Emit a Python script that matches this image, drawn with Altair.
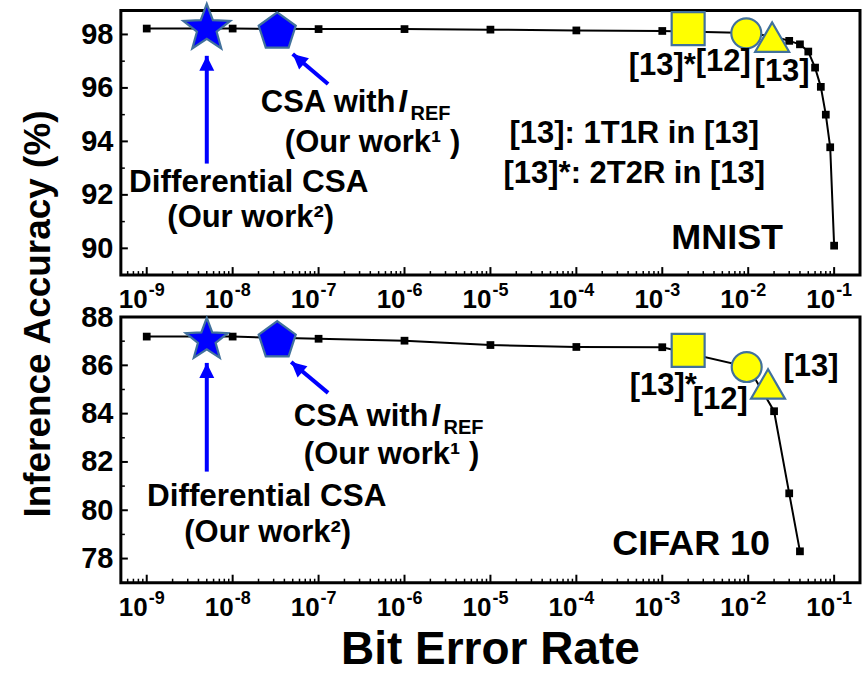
import math
import altair as alt
import pandas as pd

FONT = "Liberation Sans"

# ---------------- data ----------------
# MNIST: inference accuracy (%) versus bit error rate
mnist_ber = [1e-9, 1e-8, 1e-7, 1e-6, 1e-5, 1e-4, 1e-3, 1e-2, 2e-2,
             3e-2, 4e-2, 5e-2, 6e-2, 7e-2, 8e-2, 9e-2, 1e-1]
mnist_acc = [98.22, 98.22, 98.20, 98.20, 98.18, 98.15, 98.13, 98.05, 97.92,
             97.76, 97.63, 97.36, 96.76, 96.04, 95.00, 93.78, 90.10]

# CIFAR 10: inference accuracy (%) versus bit error rate
cifar_ber = [1e-9, 1e-8, 1e-7, 1e-6, 1e-5, 1e-4, 1e-3, 1e-2, 2e-2, 3e-2, 4e-2]
cifar_acc = [87.19, 87.19, 87.10, 87.02, 86.84, 86.76, 86.75, 85.93, 84.10, 80.70, 78.30]

# highlighted designs: ours (star, pentagon) and references (square, circle, triangle)
design_keys = ["diff_csa", "csa_iref", "ref13_2t2r", "ref12", "ref13_1t1r"]
mnist_design_ber = [5e-9, 3.3e-8, 2e-3, 9.5e-3, 1.9e-2]
mnist_design_acc = [98.22, 98.10, 98.22, 98.04, 97.90]
cifar_design_ber = [5e-9, 3.3e-8, 2e-3, 9.6e-3, 1.7e-2]
cifar_design_acc = [87.05, 87.02, 86.62, 85.93, 85.23]

# arrows pointing at our designs: tail -> tip (BER, accuracy)
mnist_arrow_tail_ber = [5e-9, 1.29e-7]
mnist_arrow_tail_acc = [93.17, 96.15]
mnist_arrow_tip_ber = [5e-9, 5.0e-8]
mnist_arrow_tip_acc = [97.20, 97.27]
cifar_arrow_tail_ber = [5e-9, 1.29e-7]
cifar_arrow_tail_acc = [81.60, 84.86]
cifar_arrow_tip_ber = [5e-9, 4.8e-8]
cifar_arrow_tip_acc = [86.10, 86.14]

# axis ticks
decade_exponents = [-9, -8, -7, -6, -5, -4, -3, -2, -1]
mnist_y_major = [90, 92, 94, 96, 98]
mnist_y_minor = [91, 93, 95, 97]
cifar_y_major = [78, 80, 82, 84, 86, 88]
cifar_y_minor = [79, 81, 83, 85, 87]

# ---------------- styling ----------------
W = 740
H_TOP, H_BOT = 265, 266
X_DOMAIN = [5e-10, 0.2]
BLUE = "#0000FF"
EDGE = "#41719C"


def star_path(inner=0.42):
    pts = []
    for k in range(10):
        r = 1.0 if k % 2 == 0 else inner
        a = math.radians(-90 + 36 * k)
        pts.append((r * math.cos(a), r * math.sin(a)))
    return "M" + "L".join(f"{x:.4f},{y:.4f}" for x, y in pts) + "Z"


def pentagon_path():
    pts = []
    for k in range(5):
        a = math.radians(-90 + 72 * k)
        pts.append((math.cos(a), math.sin(a)))
    return "M" + "L".join(f"{x:.4f},{y:.4f}" for x, y in pts) + "Z"


ARROW_HEAD = "M0,0L-0.5,1L0.5,1Z"
shapes = [star_path(), pentagon_path(), "square", "circle", "triangle-up"]
fills = [BLUE, BLUE, "#FFFF00", "#FFFF00", "#FFFF00"]


def xenc(field):
    return alt.X(field, type="quantitative",
                 scale=alt.Scale(type="log", domain=X_DOMAIN, nice=False),
                 axis=None)


def make_yenc(ydom, ymajor):
    def yenc(field):
        return alt.Y(field, type="quantitative",
                     scale=alt.Scale(domain=ydom, nice=False, zero=False),
                     axis=alt.Axis(values=ymajor, format="d", ticks=False, domain=False,
                                   grid=False, labelFont=FONT, labelFontSize=29,
                                   labelFontWeight="bold", labelColor="black",
                                   labelPadding=8, labelOverlap=False, title=None))
    return yenc


def note(text, x, y, size=31, align="center", style="normal", angle=0):
    kw = dict(font=FONT, fontSize=size, fontWeight="bold", fontStyle=style,
              align=align, baseline="middle", color="black")
    if angle:
        kw["angle"] = angle
    return alt.Chart(pd.DataFrame({"t": [text]})).mark_text(**kw).encode(
        x=alt.value(x), y=alt.value(y), text="t:N")


def panel(ber, acc, d_ber, d_acc, star_size, ydom, ymajor, yminor,
          tail_b, tail_a, tip_b, tip_a, H, notes):
    yenc = make_yenc(ydom, ymajor)

    minor_x = [k * 10.0 ** e for e in range(-10, 0) for k in range(2, 10)
               if X_DOMAIN[0] < k * 10.0 ** e < X_DOMAIN[1]]
    major_x = [10.0 ** e for e in decade_exponents]

    xt_major = alt.Chart(pd.DataFrame({"v": major_x})).mark_rule(
        color="black", strokeWidth=2).encode(
        x=xenc("v"), y=alt.value(H), y2=alt.value(H - 8))
    xt_minor = alt.Chart(pd.DataFrame({"v": minor_x})).mark_rule(
        color="black", strokeWidth=1.5).encode(
        x=xenc("v"), y=alt.value(H), y2=alt.value(H - 4))
    yt_major = alt.Chart(pd.DataFrame({"v": ymajor})).mark_rule(
        color="black", strokeWidth=2).encode(
        y=yenc("v"), x=alt.value(0), x2=alt.value(7))
    yt_minor = alt.Chart(pd.DataFrame({"v": yminor})).mark_rule(
        color="black", strokeWidth=1.5).encode(
        y=yenc("v"), x=alt.value(0), x2=alt.value(4))

    curve_df = pd.DataFrame({"ber": ber, "acc": acc})
    line = alt.Chart(curve_df).mark_line(color="black", strokeWidth=2).encode(
        x=xenc("ber"), y=yenc("acc"))
    dots = alt.Chart(curve_df).mark_point(
        shape="square", filled=True, color="black", size=60, opacity=1).encode(
        x=xenc("ber"), y=yenc("acc"))

    sizes = [star_size, 1521, 1089, 900, 1156]
    design_layers = []
    for i in range(len(design_keys)):
        df = pd.DataFrame({"ber": [d_ber[i]], "acc": [d_acc[i]]})
        design_layers.append(
            alt.Chart(df).mark_point(shape=shapes[i], filled=True, fill=fills[i],
                                     stroke=EDGE, strokeWidth=2.2, size=sizes[i],
                                     opacity=1).encode(x=xenc("ber"), y=yenc("acc")))

    arrow_df = pd.DataFrame({"b0": tail_b, "a0": tail_a, "b1": tip_b, "a1": tip_a,
                             "ang": [0, 311]})
    shafts = alt.Chart(arrow_df).mark_rule(color=BLUE, strokeWidth=4).encode(
        x=xenc("b0"), y=yenc("a0"), x2="b1", y2="a1")
    heads = alt.Chart(arrow_df).mark_point(
        shape=ARROW_HEAD, filled=True, color=BLUE, size=900, opacity=1).encode(
        x=xenc("b1"), y=yenc("a1"), angle=alt.Angle("ang:Q", scale=None))

    # x tick labels: "10" with a raised exponent
    lab_df = pd.DataFrame({"v": major_x, "e": [str(e) for e in decade_exponents]})
    base_lab = alt.Chart(lab_df).mark_text(
        font=FONT, fontSize=26, fontWeight="bold", align="right", baseline="middle",
        dx=1, color="black").encode(x=xenc("v"), y=alt.value(H + 25), text=alt.value("10"))
    exp_lab = alt.Chart(lab_df).mark_text(
        font=FONT, fontSize=18, fontWeight="bold", align="left", baseline="middle",
        dx=2, color="black").encode(x=xenc("v"), y=alt.value(H + 16), text="e:N")

    layers = [xt_minor, xt_major, yt_minor, yt_major, line, dots] + design_layers + \
             [shafts, heads, base_lab, exp_lab] + notes
    return alt.layer(*layers).properties(width=W, height=H)


top_notes = [
    note("CSA with", 275, 93, align="right"),
    note("I", 278, 93, align="left", style="italic"),
    note("REF", 290, 104, size=20, align="left"),
    note("(Our work\u00b9 )", 252, 133),
    note("Differential CSA", 128, 173, size=31.5),
    note("(Our work\u00b2)", 130, 208),
    note("[13]: 1T1R in [13]", 514, 124),
    note("[13]*: 2T2R in [13]", 514, 164),
    note("MNIST", 607, 228, size=36),
    note("[13]*", 542, 56),
    note("[12]", 603, 52),
    note("[13]", 662, 62),
    note("Inference Accuracy (%)", -82, 304, size=37, angle=270),
]

bot_notes = [
    note("CSA with", 308, 100, align="right"),
    note("I", 311, 100, align="left", style="italic"),
    note("REF", 323, 111, size=20, align="left"),
    note("(Our work\u00b9 )", 271, 138),
    note("Differential CSA", 146, 180, size=31.5),
    note("(Our work\u00b2)", 147, 216),
    note("CIFAR 10", 571, 227, size=36),
    note("[13]*", 543, 69),
    note("[12]", 600, 83),
    note("[13]", 691, 50),
    note("Bit Error Rate", 370, 333, size=46),
]

top = panel(mnist_ber, mnist_acc, mnist_design_ber, mnist_design_acc, 2440,
            [89.0, 98.9], mnist_y_major, mnist_y_minor,
            mnist_arrow_tail_ber, mnist_arrow_tail_acc, mnist_arrow_tip_ber, mnist_arrow_tip_acc,
            H_TOP, top_notes)
bottom = panel(cifar_ber, cifar_acc, cifar_design_ber, cifar_design_acc, 1954,
               [77.0, 88.0], cifar_y_major, cifar_y_minor,
               cifar_arrow_tail_ber, cifar_arrow_tail_acc, cifar_arrow_tip_ber, cifar_arrow_tip_acc,
               H_BOT, bot_notes)

chart = alt.vconcat(top, bottom, spacing=42, bounds="flush").properties(
    padding={"left": 18, "top": -3, "right": 0, "bottom": 0},
    background="white",
).configure_view(stroke="black", strokeWidth=3)

chart.save("out.html", embed_options={"renderer": "svg", "actions": False})
